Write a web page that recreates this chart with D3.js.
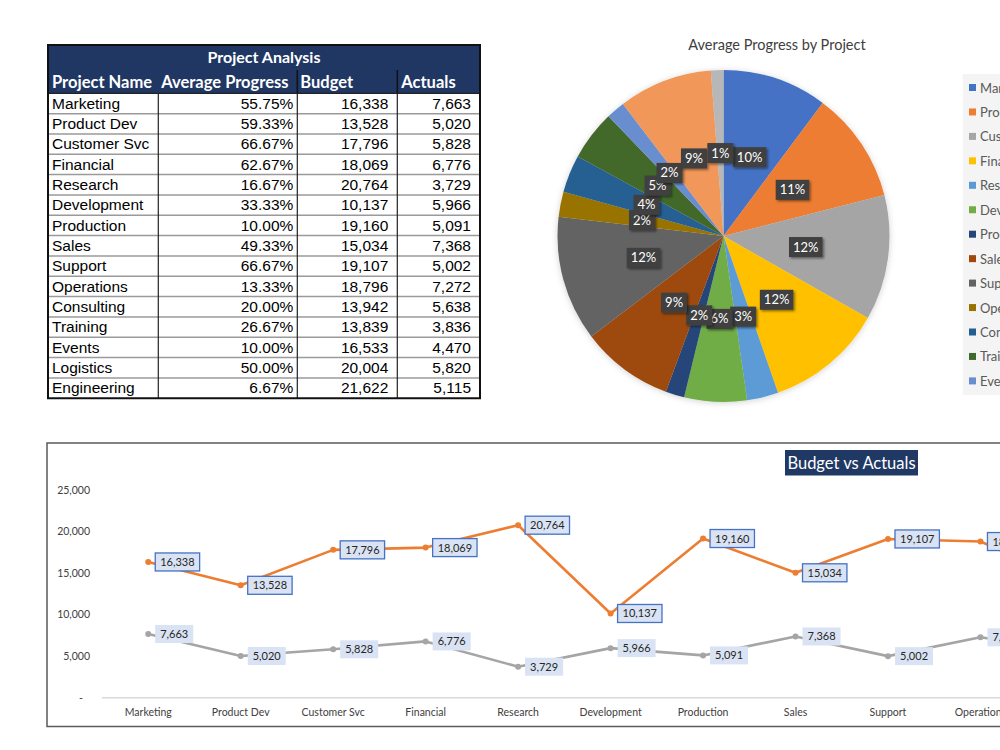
<!DOCTYPE html>
<html><head><meta charset="utf-8">
<script src="https://cdn.jsdelivr.net/npm/d3@7"></script>
<style>body{margin:0;background:#fff;overflow:hidden}svg{display:block}</style>
</head><body>
<svg id="c" width="1000" height="750"></svg>
<script>
// ---------- DATA ----------
const projects = ["Marketing","Product Dev","Customer Svc","Financial","Research","Development","Production","Sales","Support","Operations","Consulting","Training","Events","Logistics","Engineering"];
const avgProgress = [55.75,59.33,66.67,62.67,16.67,33.33,10.00,49.33,66.67,13.33,20.00,26.67,10.00,50.00,6.67];
const budget = [16338,13528,17796,18069,20764,10137,19160,15034,19107,18796,13942,13839,16533,20004,21622];
const actuals = [7663,5020,5828,6776,3729,5966,5091,7368,5002,7272,5638,3836,4470,5820,5115];
const pieLabels = ["10%","11%","12%","12%","3%","6%","2%","9%","12%","2%","4%","5%","2%","9%","1%"];
const yTicks = [0,5000,10000,15000,20000,25000];
const tableHeaders = ["Project Name","Average Progress","Budget","Actuals"];
const tableTitle = "Project Analysis";
const pieTitle = "Average Progress by Project";
const lineTitle = "Budget vs Actuals";
const sliceColors = ["#4472C4","#ED7D31","#A5A5A5","#FFC000","#5B9BD5","#70AD47","#264478","#9E480E","#636363","#997300","#255E91","#43682B","#698ED0","#F1975A","#B7B7B7"];

const svg = d3.select("#c");
const defs = svg.append("defs");
const f = defs.append("filter").attr("id","sh").attr("x","-30%").attr("y","-30%").attr("width","170%").attr("height","170%");
f.append("feDropShadow").attr("dx",1.5).attr("dy",1.5).attr("stdDeviation",1.2).attr("flood-color","#000").attr("flood-opacity",0.45);
const f2 = defs.append("filter").attr("id","psh").attr("x","-10%").attr("y","-10%").attr("width","120%").attr("height","120%");
f2.append("feDropShadow").attr("dx",0).attr("dy",1).attr("stdDeviation",3).attr("flood-color","#000").attr("flood-opacity",0.18);
defs.append("clipPath").attr("id","legclip").append("rect").attr("x",962.5).attr("y",74).attr("width",60).attr("height",321);

// ---------- TABLE ----------
const T = {x0:48, x1:480, top:45, h1:25, h2:23.3, rowH:20.33, cols:[48,158.3,297.3,397.3,480]};
const tg = svg.append("g");
const dataTop = T.top + T.h1 + T.h2;
const tBottom = dataTop + T.rowH*projects.length;
tg.append("rect").attr("x",T.x0).attr("y",T.top).attr("width",T.x1-T.x0).attr("height",T.h1+T.h2).attr("fill","#203764");
tg.append("text").attr("x",(T.x0+T.x1)/2).attr("y",T.top+18).attr("text-anchor","middle")
  .attr("font-family","Lato").attr("font-weight","bold").attr("font-size",16).attr("fill","#fff").text(tableTitle);
const hx = [T.cols[0]+4, T.cols[1]+3, T.cols[2]+3, T.cols[3]+4];
tg.selectAll("text.h").data(tableHeaders).join("text").attr("class","h")
  .attr("x",(d,i)=>hx[i]).attr("y",T.top+T.h1+17.5)
  .attr("font-family","Lato").attr("font-weight","bold").attr("font-size",16.5).attr("fill","#fff").text(d=>d);
[T.cols[2],T.cols[3]].forEach(x=>tg.append("line").attr("x1",x).attr("x2",x).attr("y1",T.top+T.h1).attr("y2",dataTop).attr("stroke","#111").attr("stroke-width",1.5));
d3.range(1,projects.length).forEach(i=>{
  tg.append("line").attr("x1",T.x0).attr("x2",T.x1).attr("y1",dataTop+i*T.rowH).attr("y2",dataTop+i*T.rowH).attr("stroke","#9a9a9a").attr("stroke-width",1.5);
});
[T.cols[1],T.cols[2],T.cols[3]].forEach(x=>tg.append("line").attr("x1",x).attr("x2",x).attr("y1",dataTop).attr("y2",tBottom).attr("stroke","#222").attr("stroke-width",1.2));
tg.append("line").attr("x1",T.x0).attr("x2",T.x1).attr("y1",dataTop).attr("y2",dataTop).attr("stroke","#222").attr("stroke-width",1.2);
tg.append("rect").attr("x",T.x0).attr("y",T.top).attr("width",T.x1-T.x0).attr("height",tBottom-T.top).attr("fill","none").attr("stroke","#111").attr("stroke-width",2);
const rows = tg.selectAll("g.r").data(projects).join("g").attr("class","r")
  .attr("transform",(d,i)=>`translate(0,${dataTop+i*T.rowH+15.5})`)
  .attr("font-family","Liberation Sans, Arial").attr("font-size",15.5).attr("fill","#000");
rows.append("text").attr("x",T.cols[0]+4).text(d=>d);
rows.append("text").attr("x",T.cols[2]-4).attr("text-anchor","end").text((d,i)=>avgProgress[i].toFixed(2)+"%");
rows.append("text").attr("x",T.cols[3]-9).attr("text-anchor","end").text((d,i)=>d3.format(",")(budget[i]));
rows.append("text").attr("x",T.cols[4]-9).attr("text-anchor","end").text((d,i)=>d3.format(",")(actuals[i]));

// ---------- PIE ----------
const cx = 723.5, cy = 236, R = 166;
svg.append("text").attr("x",777).attr("y",50).attr("text-anchor","middle").attr("font-family","Lato").attr("font-size",14.5).attr("fill","#404040").text(pieTitle);
const pie = d3.pie().sort(null).value(d=>d)(avgProgress);
const arc = d3.arc().innerRadius(0).outerRadius(R);
const pg = svg.append("g").attr("transform",`translate(${cx},${cy})`);
pg.append("g").attr("filter","url(#psh)").selectAll("path").data(pie).join("path").attr("d",arc).attr("fill",(d,i)=>sliceColors[i]);
const lg = pg.selectAll("g.pl").data(pie).join("g").attr("class","pl").attr("transform",d=>`translate(${arc.centroid(d)})`);
lg.each(function(d,i){
  const g = d3.select(this);
  const r = g.append("rect").attr("fill","#3f3f3f").attr("filter","url(#sh)");
  const t = g.append("text").attr("text-anchor","middle").attr("y",4.5).attr("font-family","Lato").attr("font-size",13).attr("fill","#fff").text(pieLabels[i]);
  const w = t.node().getComputedTextLength()+8;
  r.attr("x",-w/2).attr("y",-10).attr("width",w).attr("height",20);
});
// legend (clipped to its box, as in the reference)
const lgd = svg.append("g").attr("clip-path","url(#legclip)");
lgd.append("rect").attr("x",962.5).attr("y",74).attr("width",60).attr("height",321).attr("fill","#f4f4f4");
const le = lgd.selectAll("g").data(projects).join("g").attr("transform",(d,i)=>`translate(969,${88+i*24.45})`);
le.append("rect").attr("x",0).attr("y",-4).attr("width",7).attr("height",7).attr("fill",(d,i)=>sliceColors[i]);
le.append("text").attr("x",11).attr("y",4.5).attr("font-family","Lato").attr("font-size",13).attr("fill","#595959").text(d=>d);

// ---------- LINE CHART ----------
const lc = svg.append("g");
lc.append("rect").attr("x",47).attr("y",443).attr("width",1100).attr("height",283.5).attr("fill","#fff").attr("stroke","#5a5a5a").attr("stroke-width",1.5);
const x = d3.scaleBand().domain(projects).range([102, 102+92.47*projects.length]).padding(0);
const xc = d => x(d)+x.bandwidth()/2;
const y = d3.scaleLinear().domain([0,25000]).range([697.7,490]);
lc.append("line").attr("x1",102).attr("x2",1100).attr("y1",y(0)).attr("y2",y(0)).attr("stroke","#d9d9d9").attr("stroke-width",1.5);
const yAx = lc.append("g").attr("transform","translate(90,0)")
  .call(d3.axisLeft(y).tickValues(yTicks).tickSize(0).tickPadding(0).tickFormat(d=>d===0?"-":d3.format(",")(d)));
yAx.select(".domain").remove();
yAx.selectAll("text").attr("font-family","Lato").attr("font-size",10.5).attr("fill","#404040")
  .attr("dx",d=>d===0?-7:0);
const xAx = lc.append("g").attr("transform",`translate(0,${y(0)})`).call(d3.axisBottom(x).tickSize(0).tickPadding(11));
xAx.select(".domain").remove();
xAx.selectAll("text").attr("font-family","Lato").attr("font-size",10.5).attr("fill","#404040");

const line = d3.line().x((d,i)=>xc(projects[i])).y(d=>y(d));
lc.append("path").datum(actuals).attr("d",line).attr("fill","none").attr("stroke","#A5A5A5").attr("stroke-width",2.6).attr("stroke-linejoin","round");
lc.append("path").datum(budget).attr("d",line).attr("fill","none").attr("stroke","#ED7D31").attr("stroke-width",2.6).attr("stroke-linejoin","round");
lc.selectAll("circle.a").data(actuals).join("circle").attr("class","a").attr("cx",(d,i)=>xc(projects[i])).attr("cy",d=>y(d)).attr("r",3).attr("fill","#A5A5A5");
lc.selectAll("circle.b").data(budget).join("circle").attr("class","b").attr("cx",(d,i)=>xc(projects[i])).attr("cy",d=>y(d)).attr("r",3).attr("fill","#ED7D31");

function labels(vals, border){
  const g = lc.selectAll(null).data(vals).join("g").attr("transform",(d,i)=>`translate(${xc(projects[i])+7},${y(d)})`);
  g.each(function(d){
    const s = d3.select(this);
    const r = s.append("rect").attr("fill","#dae3f3");
    if(border) r.attr("stroke","#4472C4").attr("stroke-width",1.3);
    const t = s.append("text").attr("x",0).attr("y",4).attr("font-family","Lato").attr("font-size",11).attr("fill","#262626").text(d3.format(",")(d));
    const w = t.node().getComputedTextLength()+10;
    t.attr("x",5);
    r.attr("x",0).attr("y",-9).attr("width",w).attr("height",18);
  });
}
labels(actuals,false);
labels(budget,true);

const tt = lc.append("g");
tt.append("rect").attr("x",785).attr("y",450).attr("width",133).attr("height",25.5).attr("fill","#203864");
tt.append("text").attr("x",851.5).attr("y",468.5).attr("text-anchor","middle").attr("font-family","Lato").attr("font-size",16.5).attr("fill","#fff").text(lineTitle);
</script>
</body></html>
